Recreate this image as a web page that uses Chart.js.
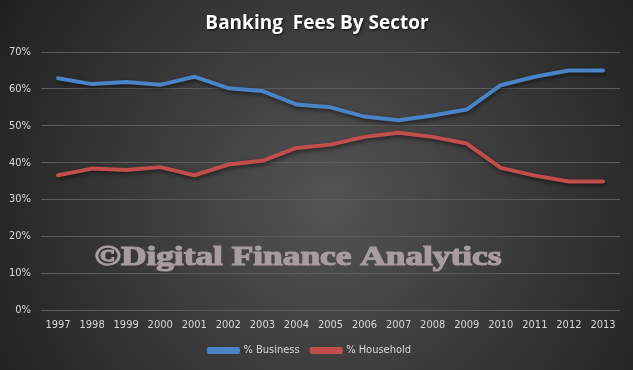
<!DOCTYPE html>
<html>
<head>
<meta charset="utf-8">
<script src="https://cdn.jsdelivr.net/npm/chart.js"></script>
<style>
  html, body { margin: 0; padding: 0; background: #2a2a2a; }
  #wrap { width: 633px; height: 370px; position: relative; }
</style>
</head>
<body>
<div id="wrap"><canvas id="chart" width="633" height="370"></canvas></div>
<script>
const years = ["1997", "1998", "1999", "2000", "2001", "2002", "2003", "2004", "2005",
               "2006", "2007", "2008", "2009", "2010", "2011", "2012", "2013"];
const businessShare = [62.9, 61.3, 61.9, 61.1, 63.3, 60.2, 59.4, 55.8, 55.0,
                       52.5, 51.5, 52.8, 54.4, 61.0, 63.3, 65.0, 65.0];
const householdShare = [36.6, 38.4, 38.0, 38.8, 36.6, 39.5, 40.5, 44.0, 44.9,
                         47.0, 48.1, 47.0, 45.2, 38.6, 36.5, 34.9, 34.9];
const seriesNames = ["% Business", "% Household"];
const seriesColors = ["#4a84c6", "#c24e4c"];

const chartTitle = "Banking  Fees By Sector";
const watermark = "\u00A9Digital Finance Analytics";

const smallFont = "'Liberation Sans Narrow', 'DejaVu Sans Condensed', 'Roboto', sans-serif";

// dark radial backdrop, lighter in the middle
const backdrop = {
    id: "backdrop",
    beforeDraw(chart) {
        const { ctx, width, height } = chart;
        const g = ctx.createRadialGradient(width * 0.52, height * 0.55, 10, width * 0.52, height * 0.55, width * 0.62);
        g.addColorStop(0, "#525252");
        g.addColorStop(1, "#1f1f1f");
        ctx.save();
        ctx.fillStyle = g;
        ctx.fillRect(0, 0, width, height);
        ctx.restore();
    },
};

// soft shadow under the lines
const lineShadow = {
    id: "lineShadow",
    beforeDatasetsDraw(chart) {
        const ctx = chart.ctx;
        ctx.save();
        ctx.shadowColor = "rgba(0,0,0,0.55)";
        ctx.shadowBlur = 4;
        ctx.shadowOffsetX = 1;
        ctx.shadowOffsetY = 2;
    },
    afterDatasetsDraw(chart) {
        chart.ctx.restore();
    },
};

// title and watermark text
const overlayText = {
    id: "overlayText",
    afterDraw(chart) {
        const ctx = chart.ctx;
        ctx.save();
        ctx.textAlign = "center";
        ctx.textBaseline = "alphabetic";
        ctx.font = "bold 19px 'Open Sans', sans-serif";
        ctx.shadowColor = "rgba(0,0,0,0.8)";
        ctx.shadowBlur = 2;
        ctx.shadowOffsetX = 1;
        ctx.shadowOffsetY = 1;
        ctx.fillStyle = "#ffffff";
        ctx.fillText(chartTitle, 317, 29);

        ctx.shadowColor = "transparent";
        ctx.font = "bold 27px 'Liberation Serif', 'DejaVu Serif', serif";
        const w = ctx.measureText(watermark).width;
        ctx.translate(298, 265);
        ctx.scale(407 / w, 1);
        ctx.fillStyle = "#a89c9c";
        ctx.strokeStyle = "#a89c9c";
        ctx.lineWidth = 1.2;
        ctx.fillText(watermark, 0, 0);
        ctx.strokeText(watermark, 0, 0);
        ctx.restore();
    },
};

new Chart(document.getElementById("chart"), {
    type: "line",
    plugins: [backdrop, lineShadow, overlayText],
    data: {
        labels: years,
        datasets: [
            {
                label: seriesNames[0],
                data: businessShare,
                borderColor: seriesColors[0],
                backgroundColor: seriesColors[0],
                borderWidth: 4,
                pointRadius: 0,
                tension: 0,
                borderCapStyle: "round",
                borderJoinStyle: "round",
            },
            {
                label: seriesNames[1],
                data: householdShare,
                borderColor: seriesColors[1],
                backgroundColor: seriesColors[1],
                borderWidth: 4,
                pointRadius: 0,
                tension: 0,
                borderCapStyle: "round",
                borderJoinStyle: "round",
            },
        ],
    },
    options: {
        responsive: false,
        animation: false,
        layout: { padding: { top: 52, right: 13, left: 0, bottom: 4 } },
        plugins: {
            title: { display: false },
            tooltip: { enabled: false },
            legend: {
                position: "bottom",
                labels: {
                    color: "#d9d9d9",
                    font: { size: 11, family: smallFont },
                    boxWidth: 29,
                    boxHeight: 3,
                    padding: 12,
                },
            },
        },
        scales: {
            x: {
                offset: true,
                grid: { display: false },
                border: { display: false },
                afterFit(scale) { scale.height += 1.5; },
                ticks: {
                    color: "#d9d9d9",
                    font: { size: 11, family: smallFont },
                    maxRotation: 0,
                    autoSkip: false,
                    padding: 0,
                },
            },
            y: {
                min: 0,
                max: 70,
                afterFit(scale) { scale.width = 41; },
                grid: { color: "#5c5c5c", lineWidth: 1, drawTicks: false },
                border: { display: false },
                ticks: {
                    stepSize: 10,
                    color: "#d9d9d9",
                    padding: 10,
                    font: { size: 11, family: smallFont },
                    callback: (v) => v + "%",
                },
            },
        },
    },
});
</script>
</body>
</html>
